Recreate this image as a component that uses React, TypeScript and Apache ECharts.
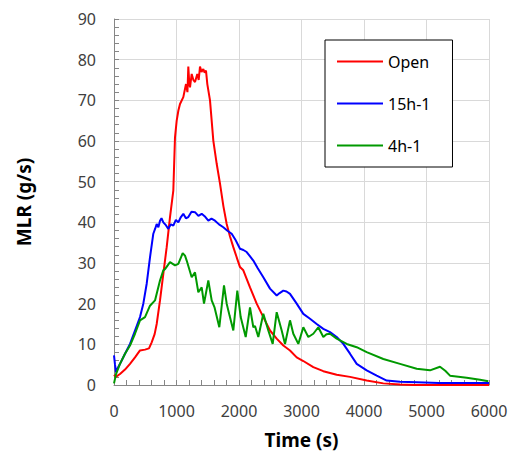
import React, { useEffect, useRef } from "react";
import * as echarts from "echarts";

const seriesNames = ["Open", "15h-1", "4h-1"];

const openT = [0, 30, 96, 176, 256, 336, 416, 496, 560, 603, 650, 683, 736, 789, 843, 896, 949, 976, 1003, 1030, 1056, 1109, 1152, 1175, 1189, 1205, 1216, 1243, 1270, 1296, 1333, 1355, 1376, 1400, 1429, 1450, 1472, 1493, 1536, 1589, 1643, 1696, 1750, 1803, 1856, 1909, 1963, 2016, 2069, 2176, 2283, 2389, 2496, 2603, 2709, 2816, 2923, 3029, 3189, 3349, 3563, 3776, 4043, 4309, 4576, 4800, 5000, 5500, 6000];
const openV = [2.5, 2, 2.7, 3.8, 5.2, 6.8, 8.5, 8.7, 9, 10.5, 12.5, 15, 20.8, 27.3, 33.9, 41.3, 47.8, 60.9, 65, 67.5, 69.1, 70.8, 74, 72, 78.3, 74, 73.2, 76.5, 75, 74.5, 76.5, 75, 78.3, 77, 77.7, 76.8, 77.3, 74, 70, 60.1, 54.4, 49.5, 44, 39.6, 36.5, 33.9, 31.4, 29, 28.2, 24, 20, 16.7, 13.4, 11.4, 9.7, 8.5, 6.8, 5.9, 4.4, 3.4, 2.5, 2, 1.1, 0.4, 0.1, 0, 0, 0, 0];

const h15T = [0, 16, 32, 60, 96, 176, 256, 336, 416, 469, 523, 576, 629, 660, 683, 710, 736, 760, 789, 830, 869, 910, 949, 990, 1029, 1070, 1109, 1150, 1189, 1240, 1296, 1350, 1403, 1450, 1509, 1560, 1616, 1680, 1749, 1810, 1883, 1940, 2016, 2070, 2123, 2229, 2300, 2389, 2496, 2603, 2650, 2709, 2760, 2816, 2923, 3029, 3136, 3243, 3349, 3456, 3563, 3669, 3776, 3883, 4043, 4203, 4363, 4576, 4843, 5200, 5600, 6000];
const h15V = [7.3, 5, 3.1, 4.2, 5.2, 7.7, 10.1, 13.4, 16.7, 20, 24.9, 31.4, 37.2, 38.5, 39.6, 38.8, 40.4, 41, 40, 39.3, 38.4, 39.5, 39.2, 40.6, 40, 41.3, 42.1, 41, 41.3, 42.6, 42.5, 41.6, 42.1, 41.5, 40.4, 40.9, 40.4, 39.5, 38.8, 38, 37.2, 35.8, 33.5, 33.2, 32.7, 30.6, 28.7, 26.5, 23.7, 22, 22.6, 23.2, 23, 22.4, 20, 17.5, 16.3, 15, 13.8, 13, 11.8, 10.1, 7.7, 5.2, 3.6, 2.3, 1.1, 0.8, 0.7, 0.5, 0.5, 0.5];

const h4T = [0, 16, 32, 96, 176, 256, 336, 416, 496, 576, 656, 736, 789, 816, 896, 976, 1029, 1099, 1136, 1163, 1243, 1296, 1349, 1403, 1440, 1509, 1563, 1610, 1685, 1760, 1803, 1850, 1909, 1973, 2027, 2107, 2176, 2229, 2256, 2309, 2389, 2469, 2539, 2603, 2683, 2736, 2816, 2869, 2949, 3029, 3109, 3189, 3269, 3349, 3400, 3456, 3563, 3723, 3883, 4043, 4309, 4576, 4843, 5056, 5216, 5300, 5376, 5643, 5856, 5989];
const h4V = [0.4, 1.5, 2.7, 5.2, 7.7, 9.7, 12.6, 15.9, 16.7, 19.5, 20.8, 25.7, 28.2, 28.5, 30.2, 29.4, 29.8, 32.4, 31.8, 30.6, 26.5, 27.7, 22.8, 24, 20, 25.7, 20.8, 19, 14.2, 24.5, 20, 17, 13.4, 23.2, 16.7, 11.8, 19.1, 14.2, 14.5, 11.8, 17.5, 13.4, 10.1, 17.9, 13.4, 10.1, 15.9, 12.6, 10.1, 14.2, 11.8, 12.6, 14.2, 11.8, 12.5, 12.6, 11.4, 10.1, 9.3, 8.1, 6.4, 5.2, 4, 3.6, 4.5, 3.5, 2.3, 1.8, 1.3, 0.9];

const pair = (t: number[], v: number[]) => t.map((x, i) => [x, v[i]]);

export default function App() {
  const ref = useRef<HTMLDivElement>(null);
  useEffect(() => {
    if (!ref.current) return;
    const chart = echarts.init(ref.current, null, { renderer: "svg" });
    const font = "'Noto Sans', 'Open Sans', sans-serif";
    const colors = ["#ff0000", "#0000ff", "#009900"];
    const datasets = [pair(openT, openV), pair(h15T, h15V), pair(h4T, h4V)];
    chart.setOption({
      animation: false,
      grid: { left: 114, right: 23, top: 19, bottom: 74 },
      legend: {
        orient: "vertical",
        left: 325,
        top: 40,
        padding: [12, 22, 12, 12],
        itemGap: 23,
        itemWidth: 46,
        itemHeight: 2,
        icon: "rect",
        borderColor: "#000",
        borderWidth: 1,
        backgroundColor: "#fff",
        textStyle: { fontFamily: font, fontSize: 16, color: "#000", lineHeight: 19 },
        data: seriesNames,
      },
      xAxis: {
        type: "value",
        min: 0,
        max: 6000,
        interval: 1000,
        name: "Time (s)",
        nameLocation: "middle",
        nameGap: 45,
        nameTextStyle: { fontFamily: font, fontSize: 19, fontWeight: "bold", color: "#000" },
        axisLine: { show: true, lineStyle: { color: "#868686", width: 1 } },
        axisTick: { show: true, inside: true, length: 5, lineStyle: { color: "#868686" } },
        minorTick: { show: true, splitNumber: 5, length: 5, lineStyle: { color: "#868686" } },
        axisLabel: { fontFamily: font, fontSize: 16, color: "#404040", margin: 18, formatter: (v: number) => String(v) },
        splitLine: { show: true, lineStyle: { color: "#d9d9d9", width: 1 } },
      },
      yAxis: {
        type: "value",
        min: 0,
        max: 90,
        interval: 10,
        name: "MLR (g/s)",
        nameLocation: "middle",
        nameGap: 81,
        nameTextStyle: { fontFamily: font, fontSize: 19, fontWeight: "bold", color: "#000" },
        axisLine: { show: true, lineStyle: { color: "#868686", width: 1 } },
        axisTick: { show: true, inside: true, length: 5, lineStyle: { color: "#868686" } },
        minorTick: { show: true, splitNumber: 5, length: 5, lineStyle: { color: "#868686" } },
        axisLabel: { fontFamily: font, fontSize: 16, color: "#404040", margin: 18 },
        splitLine: { show: true, lineStyle: { color: "#d9d9d9", width: 1 } },
      },
      series: seriesNames.map((name, i) => ({
        name,
        type: "line",
        data: datasets[i],
        symbol: "none",
        showSymbol: false,
        color: colors[i],
        itemStyle: { color: colors[i] },
        lineStyle: { color: colors[i], width: 2 },
      })),
    });
    return () => chart.dispose();
  }, []);
  return <div ref={ref} style={{ position: "absolute", left: 0, top: 0, width: 512, height: 459 }} />;
}
